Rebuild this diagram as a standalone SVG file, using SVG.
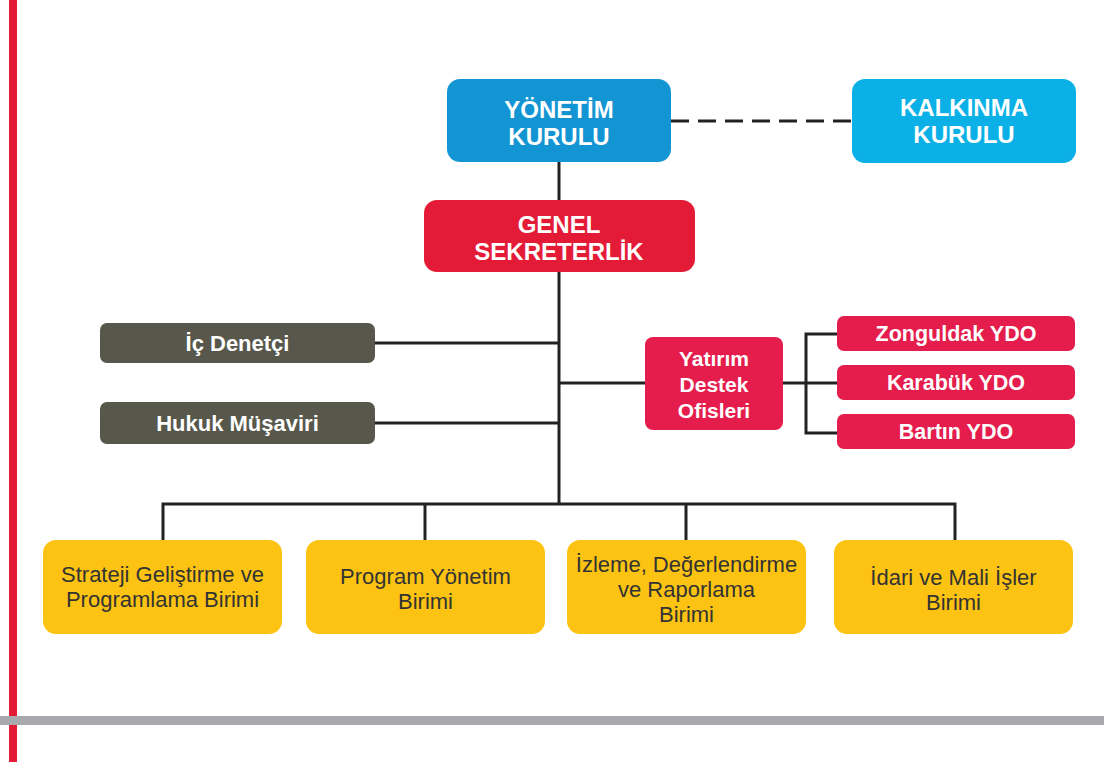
<svg xmlns="http://www.w3.org/2000/svg" width="1104" height="762" viewBox="0 0 1104 762">
<style>
.t{font-family:"Liberation Sans",Arial,sans-serif;text-anchor:middle}
.b{font-weight:700;fill:#ffffff}
.y{font-weight:400;fill:#333333;font-size:22px}
.ln{stroke:#222222;stroke-width:3;fill:none}
.dash{stroke:#222222;stroke-width:3;stroke-dasharray:18 9;fill:none}
.yel{fill:#fcc312}
.gry{fill:#58574b}
.pnk{fill:#e41d4c}
</style>
<rect x="0" y="0" width="1104" height="762" fill="#ffffff"/>
<rect x="9" y="0" width="8" height="762" fill="#e31b36"/>
<rect x="0" y="716" width="1104" height="9" fill="#a7a9ac"/>

<g id="connectors">
  <line class="dash" x1="671" y1="121" x2="852" y2="121"/>
  <line class="ln" x1="559" y1="162" x2="559" y2="200"/>
  <line class="ln" x1="559" y1="272" x2="559" y2="504"/>
  <line class="ln" x1="375" y1="343" x2="559" y2="343"/>
  <line class="ln" x1="375" y1="423" x2="559" y2="423"/>
  <line class="ln" x1="559" y1="383" x2="645" y2="383"/>
  <line class="ln" x1="783" y1="383" x2="837" y2="383"/>
  <polyline class="ln" points="837,334 806,334 806,433 837,433"/>
  <polyline class="ln" points="163,540 163,504 955,504 955,540"/>
  <line class="ln" x1="425" y1="504" x2="425" y2="540"/>
  <line class="ln" x1="686" y1="504" x2="686" y2="540"/>
</g>

<g id="yonetim-kurulu">
  <rect x="447" y="79" width="224" height="83" rx="13" fill="#1495d3"/>
  <text class="t b" font-size="24"><tspan x="559" y="118">YÖNETİM</tspan><tspan x="559" y="145">KURULU</tspan></text>
</g>
<g id="kalkinma-kurulu">
  <rect x="852" y="79" width="224" height="84" rx="13" fill="#0bb0e6"/>
  <text class="t b" font-size="24"><tspan x="964" y="116">KALKINMA</tspan><tspan x="964" y="143">KURULU</tspan></text>
</g>
<g id="genel-sekreterlik">
  <rect x="424" y="200" width="271" height="72" rx="13" fill="#e31b36"/>
  <text class="t b" font-size="24"><tspan x="559" y="233">GENEL</tspan><tspan x="559" y="260">SEKRETERLİK</tspan></text>
</g>
<g id="ic-denetci">
  <rect class="gry" x="100" y="323" width="275" height="40" rx="7"/>
  <text class="t b" x="237.5" y="350.5" font-size="22">İç Denetçi</text>
</g>
<g id="hukuk-musaviri">
  <rect class="gry" x="100" y="402" width="275" height="42" rx="7"/>
  <text class="t b" x="237.5" y="431" font-size="22">Hukuk Müşaviri</text>
</g>
<g id="yatirim-destek-ofisleri">
  <rect class="pnk" x="645" y="337" width="138" height="93" rx="8"/>
  <text class="t b" font-size="21"><tspan x="714" y="366">Yatırım</tspan><tspan x="714" y="392">Destek</tspan><tspan x="714" y="418">Ofisleri</tspan></text>
</g>
<g id="zonguldak-ydo">
  <rect class="pnk" x="837" y="316" width="238" height="35" rx="7"/>
  <text class="t b" x="956" y="341" font-size="21.5">Zonguldak YDO</text>
</g>
<g id="karabuk-ydo">
  <rect class="pnk" x="837" y="365" width="238" height="35" rx="7"/>
  <text class="t b" x="956" y="390" font-size="21.5">Karabük YDO</text>
</g>
<g id="bartin-ydo">
  <rect class="pnk" x="837" y="414" width="238" height="35" rx="7"/>
  <text class="t b" x="956" y="439" font-size="21.5">Bartın YDO</text>
</g>
<g id="strateji">
  <rect class="yel" x="43" y="540" width="239" height="94" rx="13"/>
  <text class="t y"><tspan x="162.5" y="582">Strateji Geliştirme ve</tspan><tspan x="162.5" y="607">Programlama Birimi</tspan></text>
</g>
<g id="program-yonetim">
  <rect class="yel" x="306" y="540" width="239" height="94" rx="13"/>
  <text class="t y"><tspan x="425.5" y="584">Program Yönetim</tspan><tspan x="425.5" y="609">Birimi</tspan></text>
</g>
<g id="izleme">
  <rect class="yel" x="567" y="540" width="239" height="94" rx="13"/>
  <text class="t y"><tspan x="686.5" y="572">İzleme, Değerlendirme</tspan><tspan x="686.5" y="597">ve Raporlama</tspan><tspan x="686.5" y="622">Birimi</tspan></text>
</g>
<g id="idari-mali">
  <rect class="yel" x="834" y="540" width="239" height="94" rx="13"/>
  <text class="t y"><tspan x="953.5" y="585">İdari ve Mali İşler</tspan><tspan x="953.5" y="610">Birimi</tspan></text>
</g>
</svg>
